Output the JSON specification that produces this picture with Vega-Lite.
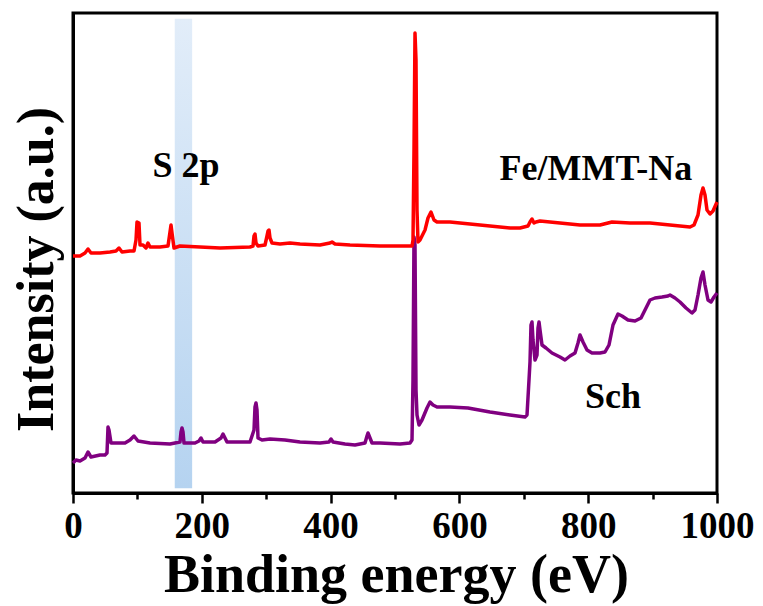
{
  "$schema": "https://vega.github.io/schema/vega-lite/v6.json",
  "autosize": {"type": "none"},
  "width": 644,
  "height": 480,
  "padding": {"left": 73, "top": 13, "right": 46, "bottom": 113},
  "background": "white",
  "config": {
    "view": {"stroke": "black", "strokeWidth": 3},
    "font": "'Liberation Serif', 'Times New Roman', serif"
  },
  "datasets": {
    "band": [{"x0": 158, "x1": 185, "y0": 1, "y1": 98.8}],
    "labels": [
      {"x": 175.5, "y": 65.8, "text": "S 2p"},
      {"x": 812, "y": 65.2, "text": "Fe/MMT-Na"},
      {"x": 838.5, "y": 17.7, "text": "Sch"}
    ],
    "px": [
      {"s":"Fe/MMT-Na","px":73,"py":256},{"s":"Fe/MMT-Na","px":80,"py":256},{"s":"Fe/MMT-Na","px":85,"py":253},{"s":"Fe/MMT-Na","px":88,"py":249},{"s":"Fe/MMT-Na","px":91,"py":253},{"s":"Fe/MMT-Na","px":100,"py":253},{"s":"Fe/MMT-Na","px":110,"py":252},{"s":"Fe/MMT-Na","px":116,"py":251},{"s":"Fe/MMT-Na","px":119,"py":248},{"s":"Fe/MMT-Na","px":122,"py":252},{"s":"Fe/MMT-Na","px":130,"py":251},{"s":"Fe/MMT-Na","px":134,"py":251},{"s":"Fe/MMT-Na","px":136,"py":240},{"s":"Fe/MMT-Na","px":137,"py":222},{"s":"Fe/MMT-Na","px":139,"py":223},{"s":"Fe/MMT-Na","px":140,"py":245},{"s":"Fe/MMT-Na","px":143,"py":245},{"s":"Fe/MMT-Na","px":146,"py":248},{"s":"Fe/MMT-Na","px":148,"py":243},{"s":"Fe/MMT-Na","px":150,"py":247},{"s":"Fe/MMT-Na","px":160,"py":247},{"s":"Fe/MMT-Na","px":168,"py":246},{"s":"Fe/MMT-Na","px":170,"py":232},{"s":"Fe/MMT-Na","px":171,"py":225},{"s":"Fe/MMT-Na","px":172,"py":233},{"s":"Fe/MMT-Na","px":174,"py":248},{"s":"Fe/MMT-Na","px":180,"py":246},{"s":"Fe/MMT-Na","px":200,"py":247},{"s":"Fe/MMT-Na","px":220,"py":248},{"s":"Fe/MMT-Na","px":250,"py":247},{"s":"Fe/MMT-Na","px":253,"py":246},{"s":"Fe/MMT-Na","px":254,"py":236},{"s":"Fe/MMT-Na","px":255,"py":234},{"s":"Fe/MMT-Na","px":256,"py":243},{"s":"Fe/MMT-Na","px":258,"py":246},{"s":"Fe/MMT-Na","px":265,"py":245},{"s":"Fe/MMT-Na","px":267,"py":236},{"s":"Fe/MMT-Na","px":268,"py":231},{"s":"Fe/MMT-Na","px":269,"py":230},{"s":"Fe/MMT-Na","px":270,"py":238},{"s":"Fe/MMT-Na","px":272,"py":243},{"s":"Fe/MMT-Na","px":280,"py":244},{"s":"Fe/MMT-Na","px":290,"py":243},{"s":"Fe/MMT-Na","px":300,"py":244},{"s":"Fe/MMT-Na","px":320,"py":245},{"s":"Fe/MMT-Na","px":330,"py":243},{"s":"Fe/MMT-Na","px":332,"py":242},{"s":"Fe/MMT-Na","px":335,"py":244},{"s":"Fe/MMT-Na","px":350,"py":245},{"s":"Fe/MMT-Na","px":380,"py":246},{"s":"Fe/MMT-Na","px":400,"py":246},{"s":"Fe/MMT-Na","px":412,"py":246},{"s":"Fe/MMT-Na","px":413,"py":240},{"s":"Fe/MMT-Na","px":414,"py":150},{"s":"Fe/MMT-Na","px":415,"py":33},{"s":"Fe/MMT-Na","px":416,"py":60},{"s":"Fe/MMT-Na","px":417,"py":210},{"s":"Fe/MMT-Na","px":418,"py":242},{"s":"Fe/MMT-Na","px":420,"py":240},{"s":"Fe/MMT-Na","px":425,"py":230},{"s":"Fe/MMT-Na","px":428,"py":218},{"s":"Fe/MMT-Na","px":431,"py":212},{"s":"Fe/MMT-Na","px":434,"py":220},{"s":"Fe/MMT-Na","px":437,"py":222},{"s":"Fe/MMT-Na","px":450,"py":222},{"s":"Fe/MMT-Na","px":470,"py":224},{"s":"Fe/MMT-Na","px":490,"py":226},{"s":"Fe/MMT-Na","px":510,"py":228},{"s":"Fe/MMT-Na","px":520,"py":228},{"s":"Fe/MMT-Na","px":528,"py":226},{"s":"Fe/MMT-Na","px":530,"py":222},{"s":"Fe/MMT-Na","px":532,"py":219},{"s":"Fe/MMT-Na","px":534,"py":223},{"s":"Fe/MMT-Na","px":536,"py":222},{"s":"Fe/MMT-Na","px":540,"py":221},{"s":"Fe/MMT-Na","px":560,"py":223},{"s":"Fe/MMT-Na","px":580,"py":225},{"s":"Fe/MMT-Na","px":600,"py":225},{"s":"Fe/MMT-Na","px":612,"py":222},{"s":"Fe/MMT-Na","px":630,"py":223},{"s":"Fe/MMT-Na","px":650,"py":223},{"s":"Fe/MMT-Na","px":670,"py":225},{"s":"Fe/MMT-Na","px":690,"py":227},{"s":"Fe/MMT-Na","px":694,"py":225},{"s":"Fe/MMT-Na","px":698,"py":215},{"s":"Fe/MMT-Na","px":701,"py":195},{"s":"Fe/MMT-Na","px":703,"py":188},{"s":"Fe/MMT-Na","px":705,"py":195},{"s":"Fe/MMT-Na","px":707,"py":210},{"s":"Fe/MMT-Na","px":710,"py":214},{"s":"Fe/MMT-Na","px":713,"py":211},{"s":"Fe/MMT-Na","px":717,"py":202},
      {"s":"Sch","px":73,"py":463},{"s":"Sch","px":76,"py":460},{"s":"Sch","px":80,"py":461},{"s":"Sch","px":85,"py":458},{"s":"Sch","px":88,"py":452},{"s":"Sch","px":91,"py":457},{"s":"Sch","px":100,"py":455},{"s":"Sch","px":105,"py":455},{"s":"Sch","px":107,"py":453},{"s":"Sch","px":108,"py":427},{"s":"Sch","px":109,"py":430},{"s":"Sch","px":111,"py":443},{"s":"Sch","px":115,"py":443},{"s":"Sch","px":125,"py":443},{"s":"Sch","px":130,"py":440},{"s":"Sch","px":134,"py":436},{"s":"Sch","px":138,"py":441},{"s":"Sch","px":150,"py":443},{"s":"Sch","px":170,"py":444},{"s":"Sch","px":180,"py":442},{"s":"Sch","px":181,"py":432},{"s":"Sch","px":182,"py":428},{"s":"Sch","px":183,"py":432},{"s":"Sch","px":184,"py":443},{"s":"Sch","px":195,"py":443},{"s":"Sch","px":199,"py":441},{"s":"Sch","px":201,"py":438},{"s":"Sch","px":203,"py":442},{"s":"Sch","px":215,"py":442},{"s":"Sch","px":221,"py":438},{"s":"Sch","px":223,"py":434},{"s":"Sch","px":225,"py":438},{"s":"Sch","px":227,"py":442},{"s":"Sch","px":250,"py":442},{"s":"Sch","px":254,"py":430},{"s":"Sch","px":255,"py":407},{"s":"Sch","px":256,"py":403},{"s":"Sch","px":257,"py":410},{"s":"Sch","px":258,"py":438},{"s":"Sch","px":262,"py":440},{"s":"Sch","px":270,"py":439},{"s":"Sch","px":285,"py":440},{"s":"Sch","px":300,"py":442},{"s":"Sch","px":320,"py":443},{"s":"Sch","px":329,"py":442},{"s":"Sch","px":331,"py":439},{"s":"Sch","px":333,"py":442},{"s":"Sch","px":345,"py":444},{"s":"Sch","px":355,"py":445},{"s":"Sch","px":365,"py":443},{"s":"Sch","px":367,"py":436},{"s":"Sch","px":368,"py":433},{"s":"Sch","px":370,"py":438},{"s":"Sch","px":372,"py":443},{"s":"Sch","px":380,"py":443},{"s":"Sch","px":400,"py":444},{"s":"Sch","px":410,"py":443},{"s":"Sch","px":412,"py":440},{"s":"Sch","px":413,"py":380},{"s":"Sch","px":414,"py":237},{"s":"Sch","px":415,"py":245},{"s":"Sch","px":416,"py":390},{"s":"Sch","px":417,"py":415},{"s":"Sch","px":419,"py":425},{"s":"Sch","px":422,"py":420},{"s":"Sch","px":427,"py":408},{"s":"Sch","px":430,"py":402},{"s":"Sch","px":433,"py":405},{"s":"Sch","px":437,"py":407},{"s":"Sch","px":450,"py":407},{"s":"Sch","px":468,"py":408},{"s":"Sch","px":490,"py":412},{"s":"Sch","px":510,"py":415},{"s":"Sch","px":525,"py":417},{"s":"Sch","px":527,"py":415},{"s":"Sch","px":529,"py":380},{"s":"Sch","px":530,"py":362},{"s":"Sch","px":531,"py":325},{"s":"Sch","px":532,"py":322},{"s":"Sch","px":533,"py":340},{"s":"Sch","px":535,"py":360},{"s":"Sch","px":537,"py":355},{"s":"Sch","px":538,"py":328},{"s":"Sch","px":539,"py":322},{"s":"Sch","px":540,"py":330},{"s":"Sch","px":542,"py":345},{"s":"Sch","px":546,"py":348},{"s":"Sch","px":552,"py":353},{"s":"Sch","px":560,"py":357},{"s":"Sch","px":565,"py":360},{"s":"Sch","px":570,"py":356},{"s":"Sch","px":575,"py":353},{"s":"Sch","px":578,"py":343},{"s":"Sch","px":580,"py":335},{"s":"Sch","px":583,"py":342},{"s":"Sch","px":587,"py":350},{"s":"Sch","px":592,"py":353},{"s":"Sch","px":600,"py":353},{"s":"Sch","px":605,"py":352},{"s":"Sch","px":609,"py":345},{"s":"Sch","px":613,"py":325},{"s":"Sch","px":618,"py":314},{"s":"Sch","px":622,"py":316},{"s":"Sch","px":628,"py":320},{"s":"Sch","px":635,"py":321},{"s":"Sch","px":641,"py":318},{"s":"Sch","px":645,"py":310},{"s":"Sch","px":650,"py":300},{"s":"Sch","px":655,"py":298},{"s":"Sch","px":662,"py":297},{"s":"Sch","px":668,"py":296},{"s":"Sch","px":670,"py":295},{"s":"Sch","px":675,"py":298},{"s":"Sch","px":680,"py":302},{"s":"Sch","px":686,"py":308},{"s":"Sch","px":692,"py":313},{"s":"Sch","px":695,"py":310},{"s":"Sch","px":698,"py":295},{"s":"Sch","px":701,"py":278},{"s":"Sch","px":703,"py":272},{"s":"Sch","px":705,"py":285},{"s":"Sch","px":708,"py":300},{"s":"Sch","px":711,"py":302},{"s":"Sch","px":714,"py":297},{"s":"Sch","px":717,"py":293}
    ]
  },
  "layer": [
    {
      "data": {"name": "band"},
      "mark": {
        "type": "rect",
        "color": {"gradient": "linear", "x1": 0, "y1": 0, "x2": 0, "y2": 1,
          "stops": [{"offset": 0, "color": "#e2edf9"}, {"offset": 1, "color": "#b5d3f0"}]}
      },
      "encoding": {
        "x": {"field": "x0", "type": "quantitative", "scale": {"domain": [0, 1000], "nice": false},
          "axis": {
            "values": [0, 100, 200, 300, 400, 500, 600, 700, 800, 900, 1000],
            "labelExpr": "datum.value % 200 === 0 ? toString(datum.value) : ''",
            "title": "Binding energy (eV)",
            "grid": false,
            "domainColor": "black", "domainWidth": 3,
            "tickColor": "black", "tickWidth": 2.5,
            "tickSize": {"condition": {"test": "datum.value % 200 === 0", "value": 10}, "value": 6},
            "labelFont": "'Liberation Serif', 'Times New Roman', serif", "labelFontWeight": "bold", "labelFontSize": 37,
            "labelColor": "black", "labelPadding": 5, "labelFlush": false, "labelOverlap": false,
            "titleFont": "'Liberation Serif', 'Times New Roman', serif", "titleFontWeight": "bold", "titleFontSize": 54,
            "titleColor": "black", "titleBaseline": "alphabetic", "titleX": 323, "titleY": 98
          }},
        "x2": {"field": "x1"},
        "y": {"field": "y0", "type": "quantitative", "scale": {"domain": [0, 100], "nice": false, "zero": false},
          "axis": {
            "title": "Intensity (a.u.)", "labels": false, "ticks": false, "grid": false,
            "domainColor": "black", "domainWidth": 3,
            "titleFont": "'Liberation Serif', 'Times New Roman', serif", "titleFontWeight": "bold", "titleFontSize": 52,
            "titleColor": "black", "titleBaseline": "alphabetic", "titleAngle": -90,
            "titleX": -21, "titleY": 256, "titleAlign": "center"
          }},
        "y2": {"field": "y1"}
      }
    },
    {
      "data": {"name": "px"},
      "transform": [
        {"filter": "datum.s === 'Sch'"},
        {"calculate": "(datum.px - 73) * 1000 / 644", "as": "energy"},
        {"calculate": "(493 - datum.py) / 4.8", "as": "intensity"}
      ],
      "mark": {"type": "line", "color": "#800080", "strokeWidth": 3.5, "strokeJoin": "round"},
      "encoding": {
        "x": {"field": "energy", "type": "quantitative"},
        "y": {"field": "intensity", "type": "quantitative"}
      }
    },
    {
      "data": {"name": "px"},
      "transform": [
        {"filter": "datum.s === 'Fe/MMT-Na'"},
        {"calculate": "(datum.px - 73) * 1000 / 644", "as": "energy"},
        {"calculate": "(493 - datum.py) / 4.8", "as": "intensity"}
      ],
      "mark": {"type": "line", "color": "#ff0000", "strokeWidth": 3.5, "strokeJoin": "round"},
      "encoding": {
        "x": {"field": "energy", "type": "quantitative"},
        "y": {"field": "intensity", "type": "quantitative"}
      }
    },
    {
      "data": {"name": "labels"},
      "mark": {"type": "text", "font": "'Liberation Serif', 'Times New Roman', serif", "fontWeight": "bold", "fontSize": 36,
        "color": "black", "align": "center", "baseline": "alphabetic"},
      "encoding": {
        "x": {"field": "x", "type": "quantitative"},
        "y": {"field": "y", "type": "quantitative"},
        "text": {"field": "text"}
      }
    }
  ]
}
